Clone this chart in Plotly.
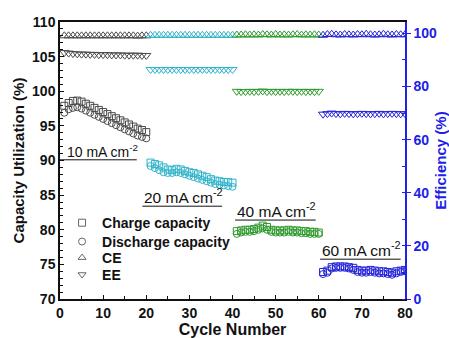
import plotly.graph_objects as go

cycles = list(range(1, 81))

charge = [97.9, 98.3, 98.6, 98.65, 98.5, 98.2, 97.9, 97.6, 97.3, 97.0,
          96.7, 96.4, 96.1, 95.8, 95.5, 95.2, 94.9, 94.6, 94.4, 94.1,
          89.7, 89.5, 89.3, 89.0, 88.7, 88.6, 88.8, 88.7, 88.5, 88.3,
          88.2, 88.0, 87.8, 87.6, 87.3, 87.1, 87.0, 86.9, 86.9, 86.8,
          79.8, 79.9, 80.0, 80.0, 80.1, 80.3, 80.6, 80.4, 80.0, 79.9,
          79.9, 79.9, 80.0, 79.9, 79.9, 79.8, 79.8, 79.7, 79.7, 79.6,
          73.9, 74.1, 74.6, 74.7, 74.7, 74.7, 74.6, 74.5, 74.2, 74.1,
          74.1, 74.2, 74.1, 74.0, 74.0, 73.9, 73.8, 74.0, 74.1, 74.2]

discharge = [96.9, 97.4, 97.6, 97.7, 97.5, 97.2, 96.9, 96.6, 96.3, 96.0,
             95.7, 95.4, 95.1, 94.8, 94.5, 94.2, 93.9, 93.6, 93.4, 93.2,
             89.2, 88.9, 88.6, 88.3, 88.2, 88.2, 88.3, 88.2, 88.0, 87.8,
             87.6, 87.4, 87.2, 87.0, 86.8, 86.6, 86.5, 86.4, 86.3, 86.2,
             79.4, 79.6, 79.7, 79.7, 79.8, 80.0, 80.2, 80.0, 79.7, 79.6,
             79.6, 79.6, 79.7, 79.6, 79.6, 79.5, 79.5, 79.4, 79.4, 79.4,
             73.6, 73.8, 74.4, 74.5, 74.5, 74.5, 74.4, 74.2, 73.9, 73.8,
             73.8, 73.9, 73.8, 73.7, 73.7, 73.6, 73.5, 73.7, 73.9, 74.0]

ce = [99.1, 99.1, 99.1, 99.1, 99.1, 99.1, 99.1, 99.1, 99.1, 99.1,
      99.1, 99.1, 99.1, 99.1, 99.1, 99.1, 99.1, 99.0, 99.1, 99.1,
      99.3, 99.3, 99.3, 99.3, 99.3, 99.3, 99.3, 99.3, 99.3, 99.3,
      99.3, 99.3, 99.3, 99.3, 99.3, 99.3, 99.3, 99.3, 99.3, 99.3,
      99.4, 99.4, 99.5, 99.4, 99.5, 99.4, 99.6, 99.5, 99.4, 99.6,
      99.4, 99.5, 99.4, 99.5, 99.6, 99.4, 99.5, 99.4, 99.5, 99.4,
      99.3, 99.6, 99.7, 99.5, 99.4, 99.6, 99.5, 99.4, 99.6, 99.5,
      99.7, 99.5, 99.4, 99.5, 99.7, 99.5, 99.4, 99.6, 99.5, 99.5]

ee = [92.8, 92.6, 92.4, 92.3, 92.2, 92.2, 92.1, 92.1, 92.0, 92.0,
      92.0, 91.9, 91.9, 91.9, 91.8, 91.8, 91.8, 91.8, 91.7, 91.7,
      86.4, 86.4, 86.4, 86.4, 86.4, 86.4, 86.4, 86.4, 86.4, 86.4,
      86.4, 86.4, 86.4, 86.4, 86.4, 86.4, 86.4, 86.4, 86.4, 86.4,
      78.2, 78.1, 78.1, 78.2, 78.1, 78.2, 78.3, 78.1, 78.2, 78.1,
      78.2, 78.1, 78.2, 78.2, 78.1, 78.2, 78.1, 78.2, 78.1, 78.2,
      69.6, 69.8, 70.0, 69.8, 69.7, 69.9, 69.8, 69.7, 69.8, 69.9,
      69.8, 69.7, 69.8, 69.9, 69.7, 69.8, 69.9, 69.8, 69.7, 69.8]

seg_colors = ["#4a4a4a", "#2fb3c9", "#2e9a2e", "#2424d8"]
seg_labels = ["10 mA cm<sup>-2</sup>", "20 mA cm<sup>-2</sup>",
              "40 mA cm<sup>-2</sup>", "60 mA cm<sup>-2</sup>"]
label_pos = [(1.2, 90.1, 0.0, 17.8), (19.0, 83.4, 19.1, 37.6),
             (40.5, 81.4, 40.6, 59.3), (60.2, 75.75, 60.3, 79.0)]
label_size = [14, 15.5, 15.5, 15.5]

legend_names = ["Charge capacity", "Discharge capacity", "CE", "EE"]
legend_symbols = ["square-open", "circle-open", "triangle-up-open", "triangle-down-open"]
legend_y = [0.274, 0.206, 0.148, 0.087]

FONT = "Arial, Liberation Sans, sans-serif"
fig = go.Figure()

for s in range(4):
    sl = slice(20 * s, 20 * s + 20)
    c = seg_colors[s]
    x = cycles[sl]
    fig.add_trace(go.Scatter(x=x, y=ce[sl], mode="markers", yaxis="y2", showlegend=False,
                             marker=dict(symbol="triangle-up-open", size=8, color=c, line=dict(width=1))))
    fig.add_trace(go.Scatter(x=x, y=ee[sl], mode="markers", yaxis="y2", showlegend=False,
                             marker=dict(symbol="triangle-down-open", size=8, color=c, line=dict(width=1))))
    fig.add_trace(go.Scatter(x=x, y=charge[sl], mode="markers", showlegend=False,
                             marker=dict(symbol="square-open", size=7, color=c, line=dict(width=1))))
    fig.add_trace(go.Scatter(x=x, y=discharge[sl], mode="markers", showlegend=False,
                             marker=dict(symbol="circle-open", size=7, color=c, line=dict(width=1))))

legend_layout = {}
for i, (name, sym, ly) in enumerate(zip(legend_names, legend_symbols, legend_y)):
    key = "legend" if i == 0 else f"legend{i + 1}"
    fig.add_trace(go.Scatter(x=[None], y=[None], mode="markers", name=name, legend=key,
                             marker=dict(symbol=sym, size=7, color="#666666", line=dict(width=1))))
    legend_layout[key] = dict(x=0.006, y=ly, xanchor="left", yanchor="middle",
                              bgcolor="rgba(0,0,0,0)", itemwidth=30,
                              font=dict(family=FONT, size=14, color="#111111", weight="bold"))

for lab, (tx, ty, ux0, ux1), fs in zip(seg_labels, label_pos, label_size):
    fig.add_annotation(x=tx, y=ty, xref="x", yref="y", text=lab, showarrow=False,
                       xanchor="left", yanchor="bottom", yshift=-2,
                       font=dict(family=FONT, size=fs, color="#111111"))
    fig.add_shape(type="line", xref="x", yref="y", x0=ux0, x1=ux1, y0=ty, y1=ty,
                  line=dict(color="#111111", width=1))

fig.update_layout(
    width=449, height=338,
    margin=dict(l=60, r=44, t=22, b=39),
    plot_bgcolor="white", paper_bgcolor="white",
    font=dict(family=FONT, size=14, color="#111111"),
    xaxis=dict(range=[0, 80], dtick=10, tickmode="linear", tick0=0, automargin=False,
               ticks="inside", ticklen=4, tickcolor="#111111",
               minor=dict(dtick=5, ticks="inside", ticklen=3, tickcolor="#111111"),
               showline=True, linecolor="#111111", linewidth=1.5, mirror=True,
               showgrid=False, zeroline=False,
               tickfont=dict(family=FONT, size=14, weight="bold"),
               title=dict(text="<b>Cycle Number</b>", font=dict(family=FONT, size=16), standoff=9)),
    yaxis=dict(range=[70, 110], dtick=5, tickmode="linear", tick0=70, automargin=False,
               ticks="inside", ticklen=4, tickcolor="#111111",
               minor=dict(dtick=1, ticks="inside", ticklen=3, tickcolor="#111111"),
               showline=True, linecolor="#111111", linewidth=1.5,
               showgrid=False, zeroline=False,
               tickfont=dict(family=FONT, size=14, weight="bold"),
               title=dict(text="<b>Capacity Utilization (%)</b>", font=dict(family=FONT, size=15), standoff=4)),
    yaxis2=dict(range=[0, 104.3], dtick=20, tickmode="linear", tick0=0, overlaying="y", side="right",
                automargin=False,
                ticks="outside", ticklen=4, tickcolor="#2020e8",
                minor=dict(dtick=10, ticks="inside", ticklen=3, tickcolor="#2020e8"),
                showline=True, linecolor="#2020e8", linewidth=1.5,
                showgrid=False, zeroline=False,
                tickfont=dict(family=FONT, size=14, weight="bold", color="#2020e8"),
                title=dict(text="<b>Efficiency (%)</b>", font=dict(family=FONT, size=15, color="#2020e8"), standoff=2)),
    **legend_layout,
)

fig.write_html("out.html")
